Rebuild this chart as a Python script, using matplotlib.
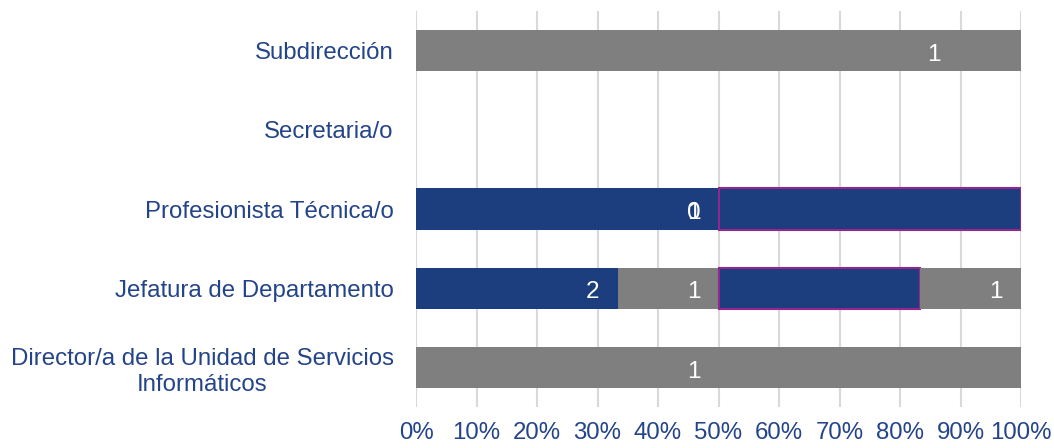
import matplotlib
matplotlib.use("Agg")
import matplotlib.pyplot as plt
import numpy as np

plt.rcParams["font.family"] = ["Liberation Sans", "DejaVu Sans"]
plt.rcParams["font.size"] = 17.3

text_color = "#244489"
blue = "#1C3D7E"
gray = "#7F7F7F"
purple = "#93278F"
grid_color = "#D9D9D9"

# Categories from bottom to top
categories = [
    "Director/a de la Unidad de Servicios\nInformáticos",
    "Jefatura de Departamento",
    "Profesionista Técnica/o",
    "Secretaria/o",
    "Subdirección",
]

# Shares of each stacked segment (fraction of 100%)
blue_first = [0, 2 / 6, 0.5, 0, 0]
gray_first = [1.0, 1 / 6, 0, 0, 1.0]
blue_second = [0, 2 / 6, 0.5, 0, 0]
gray_second = [0, 1 / 6, 0, 0, 0]

# Value labels: (category index, share where the label sits, text)
value_labels = [
    (0, 0.50, "1"),
    (1, 2 / 6, "2"),
    (1, 0.50, "1"),
    (1, 1.00, "1"),
    (2, 0.50, "0"),
    (2, 0.50, "1"),
    (4, 0.897, "1"),
]

x_ticks = np.arange(0, 1.01, 0.1)

fig = plt.figure(figsize=(10.54, 4.48), dpi=100)
ax = fig.add_axes([0.3947, 0.0915, 0.5740, 0.8839])

y = np.arange(len(categories))
h = 0.52
left = np.zeros(len(categories))
segments = [
    (blue_first, blue, "none"),
    (gray_first, gray, "none"),
    (blue_second, blue, purple),
    (gray_second, gray, "none"),
]
for vals, col, edge in segments:
    vals = np.array(vals)
    mask = vals > 0
    ax.barh(y[mask], vals[mask], left=left[mask], height=h, color=col,
            edgecolor=edge, linewidth=1.5 if edge != "none" else 0, zorder=3)
    left += vals

for idx, share, txt in value_labels:
    ax.annotate(txt, (share, idx), xytext=(-18, -3), textcoords="offset points",
                ha="center", va="center", color="white", fontsize=17.5, zorder=5)

ax.set_xlim(0, 1)
ax.set_ylim(-0.5, len(categories) - 0.5)
ax.set_xticks(x_ticks)
ax.set_xticklabels([f"{int(round(t * 100))}%" for t in x_ticks], color=text_color)
ax.set_yticks(y)
ax.set_yticklabels(categories, color=text_color, multialignment="center",
                   linespacing=1.25)
ax.tick_params(axis="both", length=0)
ax.tick_params(axis="x", pad=11)
ax.tick_params(axis="y", pad=16)
ax.grid(axis="x", color=grid_color, linewidth=1.5, zorder=0)
for s in ax.spines.values():
    s.set_visible(False)

fig.savefig("out.png", dpi=100)
